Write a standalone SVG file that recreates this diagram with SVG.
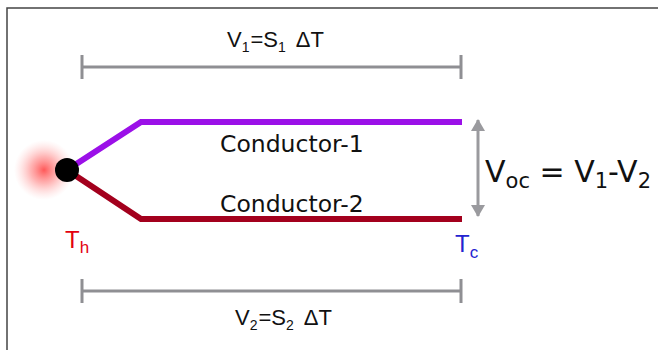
<svg xmlns="http://www.w3.org/2000/svg" width="658" height="350" viewBox="0 0 658 350">
<style>
.frame{stroke:#444;stroke-width:1.5;fill:none}
.bar{stroke:#8f8f93;stroke-width:3;fill:none}
.wire{fill:none;stroke-width:6;stroke-linejoin:miter}
.f{font-family:"Liberation Sans",Arial,sans-serif;font-size:22px;fill:#111}
.c{font-family:"DejaVu Sans",Verdana,sans-serif;font-size:23.5px;fill:#111}
.v{font-family:"DejaVu Sans",Verdana,sans-serif;font-size:30px;fill:#111}
.t{font-family:"Liberation Sans",Arial,sans-serif;font-size:24px}
</style>
<defs>
<radialGradient id="glow">
<stop offset="0" stop-color="#ff3b3b" stop-opacity="0.85"/>
<stop offset="0.45" stop-color="#ff6a6a" stop-opacity="0.5"/>
<stop offset="1" stop-color="#ffb0b0" stop-opacity="0"/>
</radialGradient>
<marker id="ah" viewBox="0 0 12 14" refX="11" refY="7" markerWidth="12" markerHeight="14" markerUnits="userSpaceOnUse" orient="auto-start-reverse">
<path d="M0,0 L12,7 L0,14 Z" fill="#9a9a9e"/>
</marker>
</defs>
<rect width="658" height="350" fill="#fff"/>
<path class="frame" d="M7,350 V8 H658"/>

<g id="bar-top">
<path class="bar" d="M82,55 V79 M82,67 H461 M461,55 V79"/>
<text class="f" x="227" y="47">V<tspan font-size="14" dy="5">1</tspan><tspan dy="-5" dx="1">=S</tspan><tspan font-size="14" dy="5">1</tspan><tspan dy="-5" dx="10">ΔT</tspan></text>
</g>

<g id="connectors">
<path class="wire" stroke="#9b10e8" d="M67,170 L141,122 H462"/>
<path class="wire" stroke="#a3001d" d="M67,170 L141,219 H462"/>
<line x1="478" y1="120" x2="478" y2="216" stroke="#9a9a9e" stroke-width="3" marker-start="url(#ah)" marker-end="url(#ah)"/>
</g>

<g id="junction">
<circle cx="44" cy="170" r="30" fill="url(#glow)"/>
<circle cx="67" cy="170" r="12" fill="#000"/>
</g>

<g id="conductor-1"><text class="c" x="220" y="152">Conductor-1</text></g>
<g id="conductor-2"><text class="c" x="220" y="212">Conductor-2</text></g>

<g id="voc">
<text class="v" x="485" y="182">V<tspan font-size="21" dy="6">oc</tspan><tspan dy="-6"> = V</tspan><tspan font-size="21" dy="6">1</tspan><tspan dy="-6">-V</tspan><tspan font-size="21" dy="6">2</tspan></text>
</g>

<g id="th"><text class="t" x="65" y="248" fill="#e3000f">T<tspan font-size="17" dy="5">h</tspan></text></g>
<g id="tc"><text class="t" x="455" y="252" fill="#2323d0">T<tspan font-size="17" dy="6">c</tspan></text></g>

<g id="bar-bottom">
<path class="bar" d="M82,279 V303 M82,291 H461 M461,279 V303"/>
<text class="f" x="235" y="325">V<tspan font-size="14" dy="5">2</tspan><tspan dy="-5" dx="1">=S</tspan><tspan font-size="14" dy="5">2</tspan><tspan dy="-5" dx="10">ΔT</tspan></text>
</g>
</svg>
